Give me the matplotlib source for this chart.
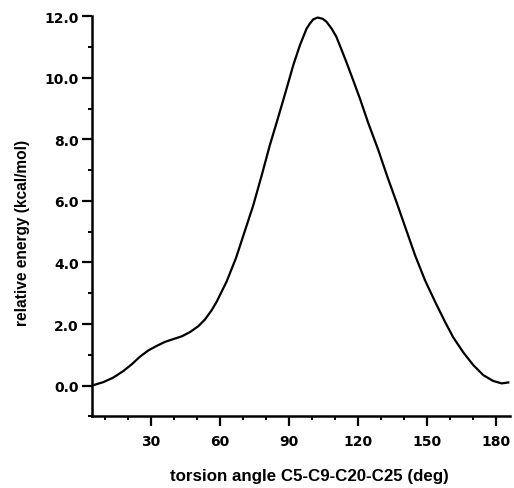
import matplotlib
matplotlib.use('Agg')
import matplotlib.pyplot as plt
from matplotlib.ticker import MultipleLocator, FormatStrFormatter

# torsion scan
angle = [4.3, 9.2, 13.6, 17.9, 21.6, 25.2, 28.8, 32.5, 36.1, 39.7, 43.4, 47.0,
         50.6, 53.5, 56.4, 58.6, 62.9, 67.0, 74.5, 78.2, 81.7, 85.4, 89.0,
         91.9, 94.8, 97.7, 99.1, 100.6, 102.5, 104.7, 106.4, 108.6, 110.7,
         115.0, 118.0, 120.9, 124.6, 128.8, 132.8, 136.9, 140.5, 144.9, 149.2,
         153.6, 157.9, 161.5, 165.9, 170.2, 174.6, 178.9, 182.6, 185.5]
energy = [0.0, 0.11, 0.26, 0.47, 0.69, 0.94, 1.14, 1.29, 1.42, 1.51, 1.6, 1.74,
          1.93, 2.15, 2.45, 2.73, 3.38, 4.15, 5.86, 6.84, 7.81, 8.73, 9.65,
          10.41, 11.06, 11.6, 11.76, 11.9, 11.96, 11.92, 11.82, 11.6, 11.33,
          10.52, 9.92, 9.33, 8.52, 7.68, 6.8, 5.95, 5.18, 4.24, 3.43,
          2.73, 2.08, 1.57, 1.08, 0.67, 0.34, 0.15, 0.07, 0.1]

plt.rcParams['font.family'] = ['DejaVu Sans']
plt.rcParams['font.weight'] = 'bold'

fig = plt.figure(figsize=(5.14, 4.89), dpi=100)
ax = fig.add_axes([0.179, 0.1466, 0.813, 0.818])

ax.plot(angle, energy, color='black', lw=1.6, solid_joinstyle='round')

ax.set_xlim(4.3, 186.2)
ax.set_ylim(-1, 12)
ax.spines['top'].set_visible(False)
ax.spines['right'].set_visible(False)
ax.spines['left'].set_linewidth(1.8)
ax.spines['bottom'].set_linewidth(1.8)

ax.xaxis.set_major_locator(MultipleLocator(30))
ax.xaxis.set_minor_locator(MultipleLocator(10))
ax.yaxis.set_major_locator(MultipleLocator(2))
ax.yaxis.set_minor_locator(MultipleLocator(1))
ax.yaxis.set_major_formatter(FormatStrFormatter('%.1f'))
ax.tick_params(which='major', direction='out', length=7, width=1.6, labelsize=10, pad=2.5)
ax.tick_params(which='minor', direction='out', length=3, width=1.4)
ax.tick_params(axis='x', which='major', pad=6)

ax.set_xlabel('torsion angle C5-C9-C20-C25 (deg)', family='Liberation Sans',
              fontsize=12.2, fontweight='bold', va='center')
ax.set_ylabel('relative energy (kcal/mol)', family='Liberation Sans',
              fontsize=11.2, fontweight='bold', va='center')
ax.xaxis.set_label_coords(0.519, -0.149)
ax.yaxis.set_label_coords(-0.1675, 0.462)

fig.savefig('out.png', dpi=100)
